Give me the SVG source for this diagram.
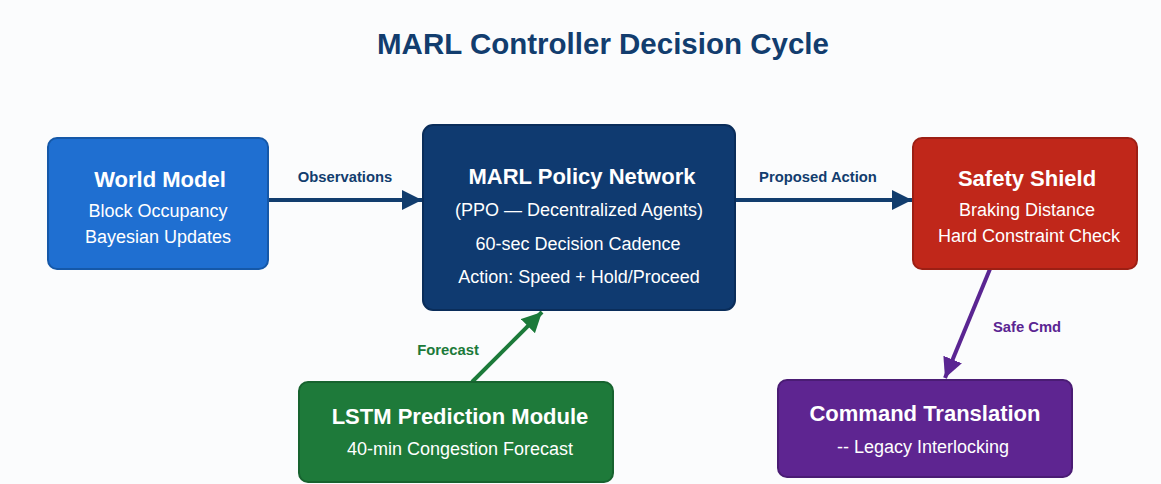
<svg xmlns="http://www.w3.org/2000/svg" width="1161" height="484" viewBox="0 0 1161 484">
<style>
.t{font-family:"Liberation Sans",Arial,sans-serif;text-anchor:middle}
.h{font-weight:bold;font-size:22px;fill:#ffffff}
.s{font-size:18px;fill:#ffffff}
.l{font-weight:bold;font-size:14.8px}
</style>
<defs>
<marker id="aBlue" viewBox="0 0 10 10" refX="10" refY="5" markerWidth="5" markerHeight="5" orient="auto" markerUnits="strokeWidth"><path d="M0,0 L10,5 L0,10 z" fill="#123d6e"/></marker>
<marker id="aGreen" viewBox="0 0 10 10" refX="10" refY="5" markerWidth="5" markerHeight="5" orient="auto" markerUnits="strokeWidth"><path d="M0,0 L10,5 L0,10 z" fill="#1c7a3a"/></marker>
<marker id="aPurple" viewBox="0 0 10 10" refX="10" refY="5" markerWidth="5" markerHeight="5" orient="auto" markerUnits="strokeWidth"><path d="M0,0 L10,5 L0,10 z" fill="#5a2592"/></marker>
</defs>
<rect width="1161" height="484" fill="#fbfcfd"/>
<text class="t" x="603" y="54" font-size="29.5" font-weight="bold" fill="#123d6e">MARL Controller Decision Cycle</text>
<g id="connectors">
<line x1="268" y1="200" x2="422" y2="200" stroke="#123d6e" stroke-width="4" marker-end="url(#aBlue)"/>
<text class="t l" x="345" y="182" fill="#123d6e">Observations</text>
<line x1="735" y1="200" x2="912" y2="200" stroke="#123d6e" stroke-width="4" marker-end="url(#aBlue)"/>
<text class="t l" x="818" y="182" fill="#123d6e">Proposed Action</text>
<line x1="472" y1="382" x2="542" y2="312" stroke="#1c7a3a" stroke-width="4" marker-end="url(#aGreen)"/>
<text class="t l" x="448" y="355" fill="#1c7a3a">Forecast</text>
<line x1="990" y1="269" x2="945" y2="378" stroke="#5a2592" stroke-width="4" marker-end="url(#aPurple)"/>
<text class="t l" x="1027" y="332" fill="#5a2592">Safe Cmd</text>
</g>
<g id="world-model">
<rect x="48" y="138" width="220" height="131" rx="9" fill="#1f6fd1" stroke="#1558a8" stroke-width="2"/>
<text class="t h" x="160" y="187">World Model</text>
<text class="t s" x="158" y="217">Block Occupancy</text>
<text class="t s" x="158" y="243">Bayesian Updates</text>
</g>
<g id="marl-policy">
<rect x="423" y="125" width="312" height="185" rx="10" fill="#0f3a70" stroke="#0a2d5a" stroke-width="2"/>
<text class="t h" x="582" y="184" font-size="24">MARL Policy Network</text>
<text class="t s" x="579" y="216">(PPO — Decentralized Agents)</text>
<text class="t s" x="578" y="250">60-sec Decision Cadence</text>
<text class="t s" x="579" y="283">Action: Speed + Hold/Proceed</text>
</g>
<g id="safety-shield">
<rect x="913" y="138" width="224" height="131" rx="9" fill="#c0271a" stroke="#9c1f14" stroke-width="2"/>
<text class="t h" x="1027" y="186">Safety Shield</text>
<text class="t s" x="1027" y="216">Braking Distance</text>
<text class="t s" x="1029" y="242">Hard Constraint Check</text>
</g>
<g id="lstm">
<rect x="299" y="382" width="314" height="100" rx="9" fill="#1e7a3a" stroke="#17632f" stroke-width="2"/>
<text class="t h" x="460" y="424">LSTM Prediction Module</text>
<text class="t s" x="460" y="455">40-min Congestion Forecast</text>
</g>
<g id="command-translation">
<rect x="778" y="380" width="294" height="97" rx="9" fill="#5e2591" stroke="#4a1c74" stroke-width="2"/>
<text class="t h" x="925" y="421">Command Translation</text>
<text class="t s" x="923" y="453">-- Legacy Interlocking</text>
</g>
</svg>
